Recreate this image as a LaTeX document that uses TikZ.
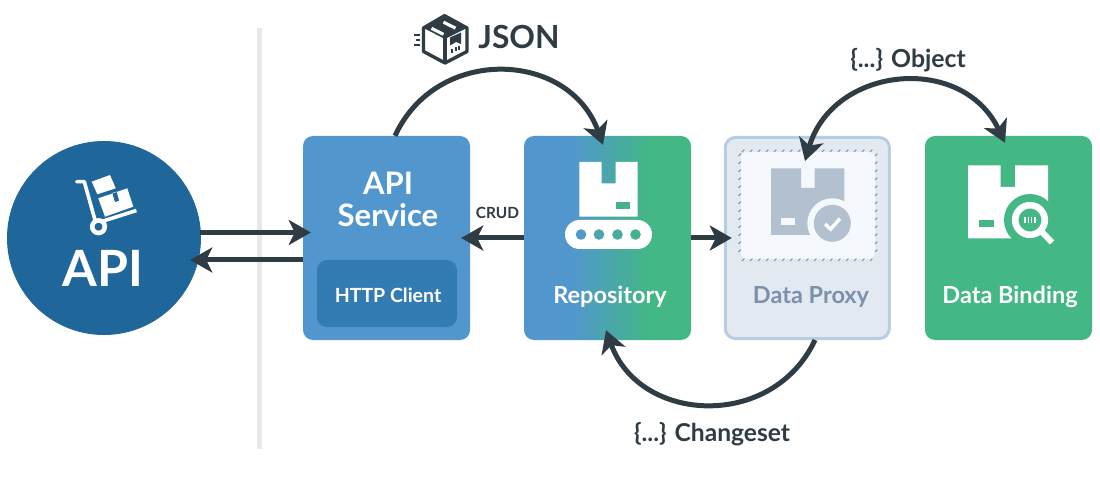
\documentclass[tikz,border=0pt]{standalone}
\usepackage{fontspec}
\setmainfont{Lato}
\usetikzlibrary{arrows.meta,calc}
\definecolor{ink}{HTML}{2F3C44}
\definecolor{apiblue}{HTML}{1F669B}
\definecolor{svcblue}{HTML}{5197CE}
\definecolor{httpblue}{HTML}{337BB3}
\definecolor{teal}{HTML}{43B784}
\definecolor{proxybg}{HTML}{E3E9F1}
\definecolor{proxyline}{HTML}{B9CDE2}
\definecolor{proxytext}{HTML}{7A90AB}
\definecolor{proxyicon}{HTML}{B2C0CF}
\definecolor{panel}{HTML}{F5F9FE}
\definecolor{rule}{HTML}{E8E8EA}
\definecolor{hatch}{HTML}{7F858C}
\pgfdeclarehorizontalshading{repograd}{100bp}{color(0bp)=(svcblue); color(39bp)=(svcblue); color(63bp)=(teal); color(100bp)=(teal)}
\newcommand{\fsz}[1]{\fontsize{#1}{#1}\selectfont\bfseries}
\tikzset{
  x=1pt,y=-1pt,
  card/.style={rectangle,rounded corners=10pt,inner sep=0pt,minimum width=167pt,minimum height=204pt},
  lab/.style={inner sep=0pt,text=white,align=center},
  inklab/.style={inner sep=0pt,text=ink,align=center},
  arr/.style={draw=ink,line width=5pt,-{Stealth[length=22pt,width=25pt,inset=6pt]}},
  arrboth/.style={draw=ink,line width=5pt,{Stealth[length=22pt,width=25pt,inset=6pt]}-{Stealth[length=22pt,width=25pt,inset=6pt]}},
}
\begin{document}
\begin{tikzpicture}
\useasboundingbox (0,0) rectangle (1100,478);
\fill[white] (0,0) rectangle (1100,478);
% separator
\fill[rule] (257,28) rectangle (262,449);
% main shapes
\node[circle,fill=apiblue,inner sep=0pt,minimum size=194pt] (api) at (104,238) {};
\node[card,fill=svcblue] (svc) at (386.5,238) {};
\node[rectangle,rounded corners=10pt,fill=httpblue,inner sep=0pt,minimum width=140pt,minimum height=67pt] (http) at (387,293.5) {};
\node[card,shading=repograd] (repo) at (607.5,238) {};
\node[card,fill=proxybg,draw=proxyline,line width=3pt,minimum width=164pt,minimum height=201pt] (proxy) at (807.3,238) {};
\node[card,fill=teal] (bind) at (1008.5,238) {};
% proxy inner panel with hatched border
\fill[panel,rounded corners=6pt] (741,152) rectangle (875,259);
\foreach \p in {742,750,...,874}{
  \draw[hatch,line width=.8pt] (\p,152) -- +(2.4,-2.4);
  \draw[hatch,line width=.8pt] (\p,261) -- +(2.4,-2.4);
}
\foreach \p in {156,164,...,256}{
  \draw[hatch,line width=.8pt] (738.5,\p) -- +(2.4,-2.4);
  \draw[hatch,line width=.8pt] (875,\p) -- +(2.4,-2.4);
}
% truck icon
\draw[white,line width=3.6pt,line cap=round,line join=round] (76.7,181.7) -- (84.3,181.7) -- (95,220);
\draw[white,line width=3.6pt] (101.7,221.5) -- (136.4,210.5);
\draw[white,line width=4.6pt] (98.5,226.7) circle (6.3);
\fill[white] (91.7,181.7) -- (110,175) -- (115.7,188.3) -- (97.3,194.3) -- cycle;
\fill[white,even odd rule] (98.3,198.3) -- (127.3,188.3) -- (133.3,206.7) -- (105,216.7) -- cycle
  (112.2,193.1) -- (116.7,191.6) -- (119.2,200.7) -- (115,202.2) -- cycle;
% repository icon
\fill[white] (579.3,162) -- (601.5,162) -- (601.5,183.3) -- (615.7,183.3) -- (615.7,162) -- (637.7,162) -- (637.7,216.7) -- (579.3,216.7) -- cycle;
\fill[teal!85!svcblue] (616,202) rectangle (630,209);
\fill[white,rounded corners=14.5pt] (565,220) rectangle (652,249);
\fill[svcblue!90!teal] (581,234.5) circle (5.3);
\fill[svcblue!60!teal] (599,234.5) circle (5.3);
\fill[svcblue!35!teal] (617.5,234.5) circle (5.3);
\fill[svcblue!15!teal] (635.5,234.5) circle (5.3);
% proxy icon
\fill[proxyicon] (771,168.3) -- (801,168.3) -- (801,188) -- (814.5,188) -- (814.5,168.3) -- (844.3,168.3) -- (844.3,235) -- (771,235) -- cycle;
\fill[panel] (781,218) rectangle (794.5,225);
\fill[panel] (832.3,223.3) circle (25);
\fill[proxyicon] (832.3,223.3) circle (18.5);
\draw[white,line width=3.4pt,line join=miter] (825.2,224) -- (830.6,229.2) -- (840,218.6);
% binding icon
\fill[white] (968,165.3) -- (1000.7,165.3) -- (1000.7,187) -- (1015,187) -- (1015,165.3) -- (1048,165.3) -- (1048,238.3) -- (968,238.3) -- cycle;
\fill[teal] (979,220) rectangle (993.5,227);
\fill[teal] (1030,220) circle (26);
\draw[white,line width=6.6pt] (1030,220) circle (14.8);
\draw[white,line width=6pt] (1042,232) -- (1052,242.5);
\foreach \p in {1025,1028.3,1031.6,1034.9}{\fill[white] (\p-.8,216.7) rectangle (\p+.8,223.3);}
% json icon
\draw[ink,line width=3.4pt,line join=round] (444.5,15.7) -- (467,28) -- (467,51.5) -- (445,63) -- (423.5,51.5) -- (423.5,28) -- cycle;
\fill[ink] (444.5,15.7) -- (467,28) -- (445,39) -- (423.5,28) -- cycle;
\draw[ink,line width=3.4pt] (445,38) -- (445,63);
\draw[white,line width=3.2pt] (431.5,28.3) -- (443.5,34.3);
\draw[white,line width=3.2pt] (443.5,22.2) -- (455.5,28.2);
\fill[ink] (450,37.5) -- (461,32.5) -- (461,44) -- (456,42) -- (450,45.5) -- cycle;
\fill[ink] (451,49) rectangle (453,53);
\fill[ink] (454.5,47.5) rectangle (456.5,51.5);
\fill[ink] (458,46) rectangle (460,50);
\draw[ink,line width=1.8pt] (414,35) -- (420,35);
\draw[ink,line width=1.8pt] (416,40) -- (420,40);
\draw[ink,line width=1.8pt] (414,45) -- (420,45);
% labels
\node[lab] (apilabel) at (103,268) {\fsz{50}API};
\node[lab,font=\fontsize{31}{32}\selectfont\bfseries] (svclabel) at (388,199) {API\\Service};
\node[lab] (httplabel) at (388,295) {\fsz{19.5}HTTP Client};
\node[lab] (repolabel) at (610,296.5) {\fsz{23.5}Repository};
\node[lab,text=proxytext] (proxylabel) at (811,296.5) {\fsz{23.5}Data Proxy};
\node[lab] (bindlabel) at (1010,296.5) {\fsz{23.5}Data Binding};
\node[inklab] (jsonlabel) at (519,37.5) {\fsz{31.8}JSON};
\node[inklab] (crudlabel) at (497.5,213) {\fsz{15.4}CRUD};
\node[inklab] (objlabel) at (908,60) {\fsz{24.8}\{...\} Object};
\node[inklab] (chglabel) at (712,434) {\fsz{24.6}\{...\} Changeset};
% connectors
\draw[arr] ($(api.east)+(-1,-5.5)$) -- ($(svc.west)+(8,-5.5)$);
\draw[arr] ($(svc.west)+(0,22)$) -- ($(api.east)+(-11,22)$);
\draw[arr] (repo.west) -- ($(svc.east)+(-9,0)$);
\draw[arr] (repo.east) -- ($(proxy.west)+(8,0)$);
\draw[arr] ($(svc.north)+(8.5,0)$) .. controls +(42,-91) and +(-34,-94) .. ($(repo.north)+(-4.5,9)$);
\draw[arr] ($(proxy.south)+(7.7,0)$) .. controls +(-42,90) and +(34,94) .. ($(repo.south)+(-1.5,-10)$);
\draw[arrboth] ($(proxy.north)+(-2.3,25)$) .. controls +(28,-95) and +(-43,-90) .. ($(bind.north)+(-3.5,7)$);
\end{tikzpicture}
\end{document}
